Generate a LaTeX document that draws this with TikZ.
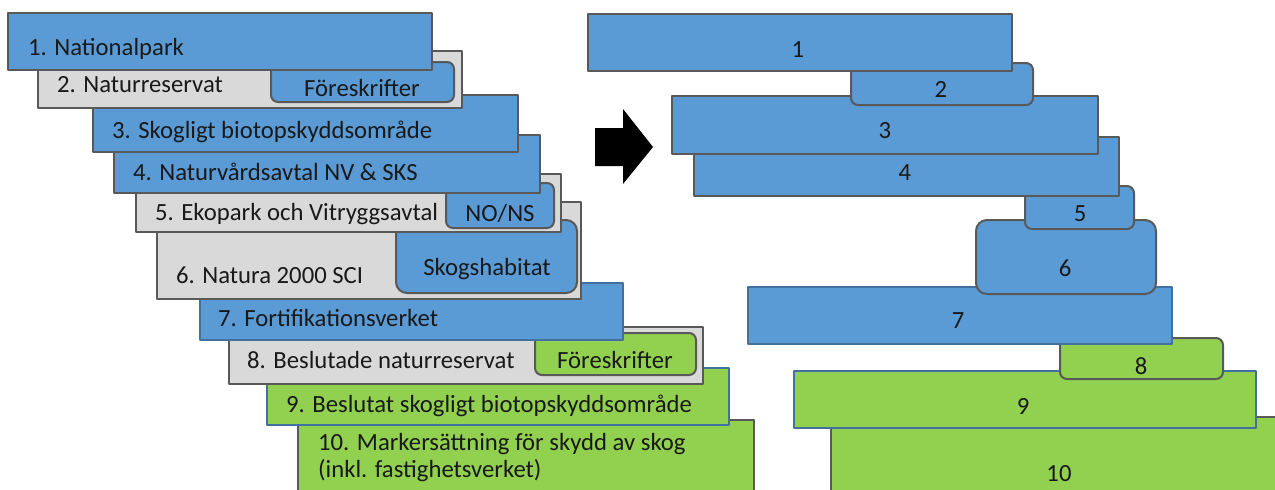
\documentclass[tikz,border=0pt]{standalone}
\usepackage{fontspec}
\setmainfont{Carlito}
\definecolor{cblue}{HTML}{5B9BD5}
\definecolor{cgreen}{HTML}{92D050}
\definecolor{cgrey}{HTML}{D9D9D9}
\definecolor{cline}{HTML}{595959}
\definecolor{cbline}{HTML}{41719C}
\begin{document}
\begin{tikzpicture}[x=1pt, y=-1pt, line join=round, font=\fontsize{24.7}{29}\selectfont,
    lag/.style={draw=cline, line width=2pt, anchor=north west, inner sep=0pt, outer sep=0pt},
    blaa/.style={lag, fill=cblue},
    graa/.style={lag, fill=cgrey},
    gron/.style={lag, fill=cgreen},
    bkant/.style={draw=cbline, line width=1.6pt},
    rund/.style={rounded corners=7pt},
    txt/.style={inner sep=0pt, anchor=base west, text=black!90},
    nr/.style={inner sep=0pt, anchor=base, text=black!90}]
  \useasboundingbox (0,0) rectangle (1275,490);
  % vänster: lagren, underst först
  \node[gron, minimum width=456pt, minimum height=90pt] (L10) at (298,420) {};
  \node[txt] (t10a) at (318,450) {10. Markersättning för skydd av skog};
  \node[txt] (t10b) at (318,477) {(inkl. fastighetsverket)};
  \node[gron, bkant, minimum width=462pt, minimum height=57pt] (L9) at (267,368) {};
  \node[txt] (t9) at (286,412) {9. Beslutat skogligt biotopskyddsområde};
  \node[graa, minimum width=474pt, minimum height=57pt] (L8) at (229,327) {};
  \node[gron, rund, minimum width=161pt, minimum height=42pt] (L8s) at (535,333) {};
  \node[txt] (t8) at (247,368) {8. Beslutade naturreservat};
  \node[nr] (t8s) at (615,368) {Föreskrifter};
  \node[blaa, bkant, minimum width=423pt, minimum height=57pt] (L7) at (200,283) {};
  \node[txt] (t7) at (218,326) {7. Fortifikationsverket};
  \node[graa, minimum width=424pt, minimum height=97pt] (L6) at (157,202) {};
  \node[blaa, rund, rounded corners=11pt, minimum width=181pt, minimum height=73pt] (L6s) at (396,220) {};
  \node[txt] (t6) at (176,283) {6. Natura 2000 SCI};
  \node[nr] (t6s) at (487,275) {Skogshabitat};
  \node[graa, minimum width=425pt, minimum height=58pt] (L5) at (136,174) {};
  \node[blaa, rund, minimum width=108pt, minimum height=45pt] (L5s) at (446,183) {};
  \node[txt] (t5) at (155,220) {5. Ekopark och Vitryggsavtal};
  \node[nr] (t5s) at (500,221) {NO/NS};
  \node[blaa, minimum width=426pt, minimum height=58pt] (L4) at (114,135) {};
  \node[txt] (t4) at (133,180) {4. Naturvårdsavtal NV \& SKS};
  \node[blaa, minimum width=425pt, minimum height=57pt] (L3) at (93,95) {};
  \node[txt] (t3) at (112,138) {3. Skogligt biotopskyddsområde};
  \node[graa, minimum width=424pt, minimum height=57pt] (L2) at (38,51) {};
  \node[blaa, rund, minimum width=183pt, minimum height=40pt] (L2s) at (271,62) {};
  \node[txt] (t2) at (57,92) {2. Naturreservat};
  \node[nr] (t2s) at (362,96) {Föreskrifter};
  \node[blaa, minimum width=424pt, minimum height=57pt] (L1) at (8,13) {};
  \node[txt] (t1) at (28,55) {1. Nationalpark};
  % pilen
  \fill (595,128)--(623,128)--(623,109)--(653,147)--(623,184)--(623,166)--(595,166)--cycle;
  % höger: samma lager, ihopskjutna
  \node[gron, minimum width=456pt, minimum height=90pt] (R10) at (831,417) {};
  \node[nr] (r10) at (1059,481) {10};
  \node[gron, bkant, minimum width=462pt, minimum height=57pt] (R9) at (794,371) {};
  \node[nr] (r9) at (1023,414) {9};
  \node[gron, rund, minimum width=163pt, minimum height=41pt] (R8) at (1060,338) {};
  \node[nr] (r8) at (1141,374) {8};
  \node[blaa, bkant, minimum width=424pt, minimum height=57pt] (R7) at (748,287) {};
  \node[nr] (r7) at (958,328) {7};
  \node[blaa, rund, rounded corners=11pt, minimum width=180pt, minimum height=74pt] (R6) at (976,220) {};
  \node[nr] (r6) at (1065,276) {6};
  \node[blaa, rund, minimum width=109pt, minimum height=43pt] (R5) at (1025,186) {};
  \node[nr] (r5) at (1080,221) {5};
  \node[blaa, minimum width=425pt, minimum height=59pt] (R4) at (694,137) {};
  \node[nr] (r4) at (905,180) {4};
  \node[blaa, minimum width=426pt, minimum height=58pt] (R3) at (672,96) {};
  \node[nr] (r3) at (885,138) {3};
  \node[blaa, rund, minimum width=182pt, minimum height=42pt] (R2) at (851,63) {};
  \node[nr] (r2) at (941,97) {2};
  \node[blaa, minimum width=424pt, minimum height=57pt] (R1) at (588,14) {};
  \node[nr] (r1) at (798,57) {1};
\end{tikzpicture}
\end{document}
